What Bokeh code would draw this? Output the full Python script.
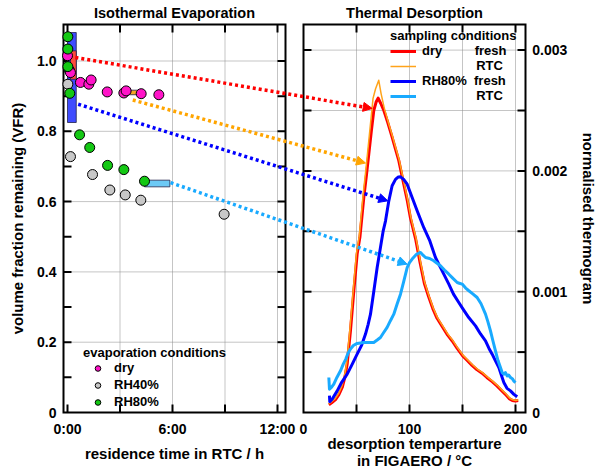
import numpy as np
from bokeh.plotting import figure
from bokeh.core.properties import value
from bokeh.models import Range1d, Arrow, NormalHead, Legend, LegendItem
from bokeh.embed import file_html
from bokeh.resources import INLINE

FONT = "Liberation Sans"

# ---- isothermal evaporation: residence time (h) vs VFR ----
dry_t = [0.0, 0.11, 0.17, 0.74, 1.22, 1.35, 2.27, 3.22, 3.35, 4.21, 5.22]
dry_vfr = [1.015, 0.974, 0.967, 0.939, 0.934, 0.946, 0.912, 0.909, 0.915, 0.907, 0.904]
rh40_t = [0.02, 0.17, 1.43, 2.42, 3.30, 4.19, 8.95]
rh40_vfr = [0.934, 0.728, 0.677, 0.633, 0.619, 0.604, 0.564]
rh80_t = [0.02, 0.02, 0.02, 0.13, 0.69, 1.27, 2.29, 3.22, 4.40]
rh80_vfr = [1.069, 1.034, 0.984, 0.908, 0.790, 0.754, 0.703, 0.691, 0.658]

# sampling windows: RH80% fresh, dry fresh, dry RTC, RH80% RTC
bar_t0 = [0.0, 0.17, 3.41, 4.40]
bar_t1 = [0.50, 0.50, 4.23, 5.85]
bar_vfr0 = [0.825, 0.948, 0.904, 0.642]
bar_vfr1 = [1.081, 1.029, 0.917, 0.661]
bar_colors = ["#3f4cff", "#ff4b3a", "#f5a623", "#6cc9f5"]

# ---- thermal desorption: temperature (°C) vs thermogram (x 1e-3) ----
dry_fresh_temp = [23.9, 26.5, 30.2, 33.5, 36.5, 39.0, 41.2, 44.3, 47.5, 50.6,
                  53.2, 56.9, 59.3, 61.6, 64.0, 66.3, 68.5, 70.4, 72.8, 75.8,
                  79.5, 83.6, 86.8, 89.9, 94.6, 97.8, 100.9, 105.7, 110.0, 114.0,
                  118.0, 122.0, 126.0, 131.0, 136.0, 140.5, 145.0, 150.0, 154.5, 159.0,
                  163.5, 168.5, 173.0, 178.0, 182.5, 187.0, 190.5, 194.0, 197.0, 200.0,
                  202.5]
dry_fresh_n = [0.064, 0.080, 0.107, 0.150, 0.207, 0.290, 0.401, 0.676, 1.008, 1.311,
               1.450, 1.780, 1.960, 2.140, 2.330, 2.500, 2.570, 2.603, 2.560, 2.500,
               2.400, 2.280, 2.180, 2.085, 1.890, 1.760, 1.610, 1.440, 1.240, 1.070,
               0.960, 0.860, 0.780, 0.710, 0.640, 0.590, 0.530, 0.470, 0.430, 0.390,
               0.355, 0.325, 0.290, 0.255, 0.220, 0.180, 0.150, 0.115, 0.100, 0.095,
               0.100]
dry_rtc_temp = [23.6, 26.2, 29.9, 33.2, 36.1, 38.6, 40.8, 43.8, 47.0, 50.0,
                52.6, 56.2, 58.6, 60.8, 63.3, 65.6, 68.0, 71.0, 73.2, 76.2,
                79.9, 84.0, 87.2, 90.3, 95.0, 98.2, 101.3, 106.1, 110.4, 114.4,
                118.4, 122.4, 126.4, 131.4, 136.4, 140.9, 145.4, 150.4, 154.9, 159.4,
                163.9, 168.9, 173.4, 178.4, 182.9, 187.4, 190.9, 194.4, 197.4, 200.4,
                202.8]
dry_rtc_n = [0.072, 0.088, 0.115, 0.158, 0.215, 0.298, 0.410, 0.690, 1.020, 1.320,
             1.460, 1.800, 1.990, 2.180, 2.400, 2.600, 2.680, 2.750, 2.640, 2.520,
             2.405, 2.285, 2.185, 2.090, 1.895, 1.765, 1.615, 1.445, 1.245, 1.075,
             0.965, 0.865, 0.785, 0.715, 0.645, 0.595, 0.535, 0.475, 0.435, 0.395,
             0.360, 0.330, 0.295, 0.260, 0.225, 0.185, 0.155, 0.120, 0.105, 0.100,
             0.105]
rh80_fresh_temp = [24.5, 24.8, 27.0, 31.8, 36.0, 41.2, 46.0, 50.6, 55.0, 58.5,
                   61.0, 63.2, 66.4, 69.5, 72.6, 75.2, 77.4, 80.5, 83.6, 86.8,
                   89.5, 91.5, 94.5, 97.8, 102.5, 107.2, 113.5, 119.2, 124.5, 130.8,
                   137.1, 141.5, 146.5, 151.0, 155.9, 162.3, 167.0, 171.7, 175.0, 178.0,
                   181.0, 184.3, 187.0, 189.0, 192.0, 195.3, 198.5, 201.6]
rh80_fresh_n = [0.140, 0.090, 0.110, 0.179, 0.250, 0.318, 0.400, 0.483, 0.560, 0.649,
                0.730, 0.814, 1.008, 1.200, 1.366, 1.504, 1.587, 1.752, 1.877, 1.930,
                1.950, 1.951, 1.930, 1.890, 1.780, 1.670, 1.530, 1.420, 1.283, 1.173,
                1.063, 0.980, 0.911, 0.850, 0.786, 0.717, 0.650, 0.593, 0.530, 0.483,
                0.430, 0.372, 0.300, 0.248, 0.200, 0.179, 0.150, 0.130]
rh80_rtc_temp = [23.9, 24.5, 26.5, 28.6, 31.5, 34.9, 37.5, 39.9, 42.0, 44.3,
                 47.0, 50.6, 56.9, 62.0, 66.3, 69.5, 72.6, 75.5, 78.9, 82.0,
                 85.2, 88.4, 91.5, 94.7, 97.8, 100.0, 102.5, 106.6, 110.4, 113.0,
                 115.1, 119.0, 122.9, 126.0, 129.2, 133.0, 137.1, 141.0, 145.0, 147.0,
                 149.7, 153.0, 156.0, 160.0, 163.8, 167.5, 171.7, 174.0, 176.4, 178.5,
                 181.1, 183.5, 185.8, 187.5, 189.0, 190.5, 192.1, 193.5, 195.3, 197.0,
                 198.5, 200.0]
rh80_rtc_n = [0.290, 0.193, 0.210, 0.235, 0.290, 0.345, 0.400, 0.442, 0.490, 0.525,
              0.555, 0.572, 0.580, 0.580, 0.580, 0.600, 0.621, 0.660, 0.704, 0.760,
              0.814, 0.900, 0.979, 1.090, 1.200, 1.240, 1.270, 1.310, 1.325, 1.300,
              1.283, 1.275, 1.256, 1.235, 1.215, 1.180, 1.145, 1.110, 1.076, 1.070,
              1.063, 1.030, 1.008, 0.980, 0.952, 0.900, 0.814, 0.750, 0.676, 0.600,
              0.510, 0.430, 0.372, 0.330, 0.317, 0.330, 0.303, 0.310, 0.290, 0.280,
              0.260, 0.248]

# arrows: sample on the evaporation panel -> its thermogram
arrow_t = [0.45, 3.73, 0.61, 5.89]
arrow_vfr = [1.010, 0.889, 0.877, 0.654]
arrow_temp = [64.8, 58.5, 79.5, 97.8]
arrow_therm = [2.517, 2.065, 1.752, 1.228]
arrow_colors = ["#ff0000", "#ffa500", "#0000ff", "#19aaff"]

# ticks
time_ticks = [0, 3, 6, 9, 12]
time_labels = ["0:00", "", "6:00", "", "12:00"]
temp_ticks = [0, 50, 100, 150, 200]
temp_labels = ["0", "", "100", "", "200"]
vfr_ticks = [0, 0.2, 0.4, 0.6, 0.8, 1.0]
vfr_labels = ["0", "0.2", "0.4", "0.6", "0.8", "1.0"]
vfr_minor = [0.1, 0.3, 0.5, 0.7, 0.9]
therm_ticks = [0, 1, 2, 3]
therm_labels = ["0", "0.001", "0.002", "0.003"]
therm_minor = [0.5, 1.5, 2.5]

# ---- layout (canvas px): one frame covering the canvas, two panels in it ----
W, H = 600, 472
H0_PX, T0_PX, Y0_PX = 67, 303, 412   # where 0:00, 0 °C and value 0 sit
PX_H, PX_C = 17.5, 1.06              # px per hour, px per °C
PX_V, PX_N = 351.5, 120.8            # px per VFR unit, px per 1e-3
L_PANEL = (63, 285)                  # left panel x extent
R_PANEL = (303, 525)                 # right panel x extent
TOP_PX = 24                          # panel top
TICK = 8

h_l, h_r = (L_PANEL[0] - H0_PX) / PX_H, (L_PANEL[1] - H0_PX) / PX_H
t_l, t_r = (R_PANEL[0] - T0_PX) / PX_C, (R_PANEL[1] - T0_PX) / PX_C
v_hi = (Y0_PX - TOP_PX) / PX_V
n_hi = (Y0_PX - TOP_PX) / PX_N


def t_to_h(t):
    return (T0_PX + t * PX_C - H0_PX) / PX_H


def n_to_v(n):
    return n * PX_N / PX_V


def vpx(d):
    # vertical offset from the panel bottom (px, up positive) in VFR units
    return d / PX_V


p = figure(
    width=W,
    height=H,
    title=None,
    x_range=Range1d(-H0_PX / PX_H, (W - H0_PX) / PX_H),
    y_range=Range1d(-(H - Y0_PX) / PX_V, Y0_PX / PX_V),
    x_axis_type=None,
    y_axis_type=None,
    toolbar_location=None,
    output_backend="svg",
    min_border=0,
)
p.outline_line_color = None
p.extra_x_ranges = {"T": Range1d(-T0_PX / PX_C, (W - T0_PX) / PX_C)}
p.extra_y_ranges = {"N": Range1d(-(H - Y0_PX) / PX_N, Y0_PX / PX_N)}
TR = dict(x_range_name="T", y_range_name="N")

# grids, kept inside each panel
GRID = dict(line_color="#8a8a8a", line_dash="1 1", line_width=1, level="underlay")
p.segment(x0=time_ticks[1:], x1=time_ticks[1:], y0=0, y1=v_hi, **GRID)
p.segment(x0=h_l, x1=h_r, y0=vfr_ticks[1:], y1=vfr_ticks[1:], **GRID)
p.segment(x0=temp_ticks[1:], x1=temp_ticks[1:], y0=0, y1=n_hi, **TR, **GRID)
p.segment(x0=t_l, x1=t_r, y0=therm_minor + therm_ticks[1:], y1=therm_minor + therm_ticks[1:],
          **TR, **GRID)

# panel frames
FR = dict(fill_color=None, line_color="black", line_width=2, line_join="miter")
p.quad(left=[h_l], right=[h_r], bottom=[0], top=[v_hi], **FR)
p.quad(left=[t_l], right=[t_r], bottom=[0], top=[n_hi], **TR, **FR)

# inward ticks on all panel edges
TK = dict(line_color="black", line_width=2)
dh, dv, dt, dn = TICK / PX_H, TICK / PX_V, TICK / PX_C, TICK / PX_N
ly = vfr_ticks[1:] + vfr_minor
ry = therm_ticks[1:] + therm_minor
p.segment(x0=h_l, x1=h_l + dh, y0=ly, y1=ly, **TK)
p.segment(x0=h_r, x1=h_r - dh, y0=ly, y1=ly, **TK)
p.segment(x0=time_ticks, x1=time_ticks, y0=0, y1=dv, **TK)
p.segment(x0=time_ticks, x1=time_ticks, y0=v_hi, y1=v_hi - dv, **TK)
p.segment(x0=t_l, x1=t_l + dt, y0=ry, y1=ry, **TR, **TK)
p.segment(x0=t_r, x1=t_r - dt, y0=ry, y1=ry, **TR, **TK)
p.segment(x0=temp_ticks[1:], x1=temp_ticks[1:], y0=0, y1=dn, **TR, **TK)
p.segment(x0=temp_ticks[1:], x1=temp_ticks[1:], y0=n_hi, y1=n_hi - dn, **TR, **TK)

# tick labels
TL = dict(text_font=value(FONT), text_font_style="bold", text_font_size="14px",
          text_baseline="middle", text_color="black")
p.text(x=h_l - 7 / PX_H, y=vfr_ticks, text=vfr_labels, text_align="right", **TL)
p.text(x=t_r + 6.7 / PX_C, y=therm_ticks, text=therm_labels, text_align="left", **TR, **TL)
p.text(x=time_ticks, y=-vpx(16.5), text=time_labels, text_align="center", **TL)
p.text(x=temp_ticks, y=-vpx(16.5), text=temp_labels, text_align="center",
       x_range_name="T", **TL)

# axis and panel titles
AT = dict(text_font=value(FONT), text_font_style="bold", text_font_size="15px",
          text_align="center", text_baseline="middle", text_color="black")
p.text(x=[(17 - H0_PX) / PX_H], y=[v_hi / 2], text=["volume fraction remaining (VFR)"],
       angle=np.pi / 2, **AT)
p.text(x=[(588 - T0_PX) / PX_C], y=[n_hi / 2], text=["normalised thermogram"],
       angle=-np.pi / 2, **TR, **AT)
p.text(x=[(h_l + h_r) / 2], y=[-vpx(40.7)], text=["residence time in RTC / h"], **AT)
p.text(x=[(t_l + t_r) / 2], y=[-vpx(31.3)], text=["desorption temperarture"],
       x_range_name="T", **AT)
p.text(x=[(t_l + t_r) / 2], y=[-vpx(48)], text=["in FIGAERO / °C"], x_range_name="T", **AT)
TT = dict(AT, text_font_size="14.5px")
p.text(x=[(h_l + h_r) / 2], y=[vpx(Y0_PX - 12)], text=["Isothermal Evaporation"], **TT)
p.text(x=[(t_l + t_r) / 2], y=[vpx(Y0_PX - 12)], text=["Thermal Desorption"],
       x_range_name="T", **TT)

# sampling windows and evaporation data
p.quad(left=bar_t0, right=bar_t1, bottom=bar_vfr0, top=bar_vfr1,
       fill_color=bar_colors, line_color="#22224a", line_width=0.8)
r_dry = p.scatter(dry_t, dry_vfr, size=10, fill_color="#ff14c8", line_color="black")
r_40 = p.scatter(rh40_t, rh40_vfr, size=10, fill_color="#c8c8c8", line_color="black")
r_80 = p.scatter(rh80_t, rh80_vfr, size=10, fill_color="#14c814", line_color="black")

# thermograms
r_df = p.line(dry_fresh_temp, dry_fresh_n, line_color="#ff0000", line_width=3,
              line_join="round", **TR)
r_dr = p.line(dry_rtc_temp, dry_rtc_n, line_color="#ffa31a", line_width=1.5,
              line_join="round", **TR)
r_hf = p.line(rh80_fresh_temp, rh80_fresh_n, line_color="#0000ff", line_width=3,
              line_join="round", **TR)
r_hr = p.line(rh80_rtc_temp, rh80_rtc_n, line_color="#19aaff", line_width=3,
              line_join="round", **TR)

# dotted arrows linking the panels
for t0, v0, t1, n1, c in zip(arrow_t, arrow_vfr, arrow_temp, arrow_therm, arrow_colors):
    p.add_layout(Arrow(x_start=t0, y_start=v0, x_end=t_to_h(t1), y_end=n_to_v(n1),
                       line_color=c, line_width=3.5, line_dash="3 3",
                       end=NormalHead(size=9, fill_color=c, line_color=c, line_width=1)))

LEG = dict(
    label_text_font=FONT, label_text_font_style="bold", label_text_font_size="13px",
    label_text_color="black",
    title_text_font=FONT, title_text_font_style="bold", title_text_font_size="13px",
    title_text_color="black",
    title_standoff=0, padding=0, margin=0, border_line_color=None,
    background_fill_alpha=0, label_height=14, glyph_height=14,
)
leg_l = Legend(items=[LegendItem(label="dry", renderers=[r_dry]),
                      LegendItem(label="RH40%", renderers=[r_40]),
                      LegendItem(label="RH80%", renderers=[r_80])],
               title="evaporation conditions", location=(83, H - Y0_PX + 3),
               glyph_width=29, label_standoff=2, spacing=2, **LEG)
p.add_layout(leg_l)

nb = "\u00a0"
leg_r = Legend(items=[LegendItem(label="dry" + nb * 9 + "fresh", renderers=[r_df]),
                      LegendItem(label=nb * 15 + "RTC", renderers=[r_dr]),
                      LegendItem(label="RH80%" + nb * 2 + "fresh", renderers=[r_hf]),
                      LegendItem(label=nb * 15 + "RTC", renderers=[r_hr])],
               title="sampling conditions", location=(390, H - Y0_PX + 309),
               glyph_width=26, label_standoff=6, spacing=0, **LEG)
p.add_layout(leg_r)

open("out.html", "w").write(file_html(p, INLINE))
